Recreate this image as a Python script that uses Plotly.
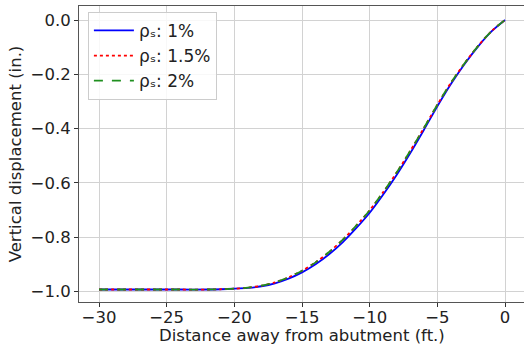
import plotly.graph_objects as go

# Distance from the abutment (ft) and vertical displacement (in) for each reinforcement ratio
distance = [-30, -28, -26, -24, -22, -21, -20, -19, -18, -17, -16, -15, -14, -13,
            -12, -11, -10, -9, -8, -7, -6, -5, -4, -3, -2, -1, 0]
disp_1 = [-0.993, -0.993, -0.993, -0.993, -0.993, -0.992, -0.990, -0.987, -0.981,
          -0.970, -0.953, -0.930, -0.900, -0.863, -0.819, -0.767, -0.710, -0.643,
          -0.570, -0.490, -0.405, -0.318, -0.236, -0.163, -0.098, -0.042, 0.0]
disp_15 = [-0.993, -0.993, -0.993, -0.993, -0.993, -0.992, -0.990, -0.986, -0.979,
           -0.967, -0.948, -0.924, -0.893, -0.855, -0.810, -0.758, -0.701, -0.634,
           -0.561, -0.482, -0.398, -0.312, -0.231, -0.160, -0.096, -0.041, 0.0]
disp_2 = [-0.993, -0.993, -0.993, -0.993, -0.993, -0.992, -0.990, -0.986, -0.979,
          -0.967, -0.948, -0.924, -0.893, -0.855, -0.810, -0.758, -0.701, -0.634,
          -0.561, -0.482, -0.398, -0.312, -0.231, -0.160, -0.096, -0.041, 0.0]
labels = ["ρₛ: 1%", "ρₛ: 1.5%", "ρₛ: 2%"]
x_ticks = [-30, -25, -20, -15, -10, -5, 0]
y_ticks = [0.0, -0.2, -0.4, -0.6, -0.8, -1.0]
x_title = "Distance away from abutment (ft.)"
y_title = "Vertical displacement (in.)"

FONT = "DejaVu Sans"
TEXT = "#222222"
fig = go.Figure()
fig.add_trace(go.Scatter(x=distance, y=disp_1, mode="lines", name=labels[0],
                         line=dict(color="#0000ff", width=1.8, shape="spline", smoothing=0.8)))
fig.add_trace(go.Scatter(x=distance, y=disp_15, mode="lines", name=labels[1],
                         line=dict(color="#ff0000", width=1.8, dash="dot",
                                   shape="spline", smoothing=0.8)))
fig.add_trace(go.Scatter(x=distance, y=disp_2, mode="lines", name=labels[2],
                         line=dict(color="#1f8f1f", width=1.8, dash="dash",
                                   shape="spline", smoothing=0.8)))

axis_common = dict(
    showgrid=True, gridcolor="#d2d2d2", gridwidth=1,
    showline=True, linecolor="#555555", linewidth=1, mirror=True,
    ticks="outside", ticklen=4, tickcolor="#333333", tickwidth=1,
    zeroline=False, tickfont=dict(family=FONT, size=16.5, color=TEXT),
)
fig.update_xaxes(range=[-31.48, 1.40], tickvals=x_ticks, ticklabelstandoff=-4,
                 **axis_common)
fig.update_yaxes(range=[-1.039, 0.0516], tickvals=y_ticks, tickformat=".1f",
                 title=dict(text=y_title, font=dict(family=FONT, size=16.5, color=TEXT),
                            standoff=4),
                 **axis_common)

# x-axis title placed just under the tick labels
fig.add_annotation(text=x_title, xref="paper", yref="paper", x=0.5, y=-0.112,
                   xanchor="center", yanchor="middle", showarrow=False,
                   font=dict(family=FONT, size=16.5, color=TEXT))

fig.update_layout(
    width=524, height=349,
    margin=dict(l=79, r=0, t=6, b=47),
    paper_bgcolor="white", plot_bgcolor="white",
    showlegend=True,
    legend=dict(x=0.02, y=0.98, xanchor="left", yanchor="top", itemwidth=40,
                bgcolor="rgba(255,255,255,0.85)", bordercolor="#cccccc",
                borderwidth=1, font=dict(family=FONT, size=17, color=TEXT)),
)
fig.write_html("out.html")
